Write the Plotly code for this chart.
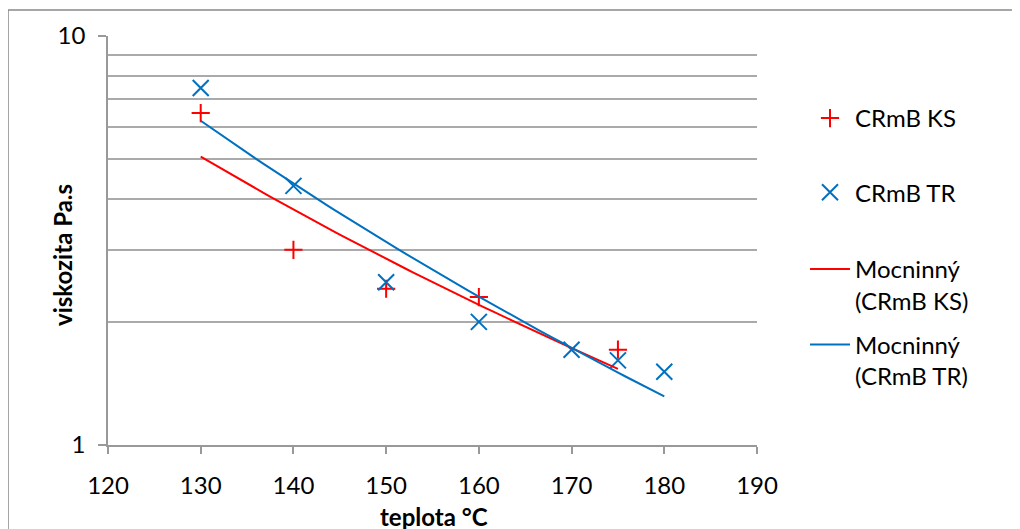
import numpy as np
import plotly.graph_objects as go

# Data
ks_x = [130, 140, 150, 160, 175]
ks_y = [6.48, 3.0, 2.41, 2.30, 1.71]
tr_x = [130, 140, 150, 160, 170, 175, 180]
tr_y = [7.46, 4.30, 2.50, 2.00, 1.71, 1.61, 1.51]

x_ticks = [120, 130, 140, 150, 160, 170, 180, 190]
y_ticks = [1, 10]
y_minor = [2, 3, 4, 5, 6, 7, 8, 9]

names = ["CRmB KS", "CRmB TR", "Mocninný<br>(CRmB KS)", "Mocninný<br>(CRmB TR)"]

RED = "#FF0000"
BLUE = "#0070C0"
FONT = "Lato"


def power_fit(xs, ys):
    b, a = np.polyfit(np.log(xs), np.log(ys), 1)
    xf = np.linspace(min(xs), max(xs), 60)
    return xf, np.exp(a) * xf ** b


fig = go.Figure()
fig.add_trace(go.Scatter(x=ks_x, y=ks_y, mode="markers", name=names[0],
                         legend="legend", legendgroup="a",
                         marker=dict(symbol="cross-thin", size=13,
                                     line=dict(color=RED, width=2))))
fig.add_trace(go.Scatter(x=tr_x, y=tr_y, mode="markers", name=names[1],
                         legend="legend", legendgroup="b",
                         marker=dict(symbol="x-thin", size=16,
                                     line=dict(color=BLUE, width=2))))
fx, fy = power_fit(ks_x, ks_y)
fig.add_trace(go.Scatter(x=fx, y=fy, mode="lines", name=names[2],
                         legend="legend2", legendgroup="c",
                         line=dict(color=RED, width=2)))
fx, fy = power_fit(tr_x, tr_y)
fig.add_trace(go.Scatter(x=fx, y=fy, mode="lines", name=names[3],
                         legend="legend2", legendgroup="d",
                         line=dict(color=BLUE, width=2)))

# page body has an 8px margin, so positions are shifted by 8
OFF = 8
W, H = 1020, 529
L, R, T, B = 108 - OFF, 757 - OFF, 36 - OFF, 445 - OFF
pw, ph = R - L, B - T


def px_x(sx):
    return (sx - OFF - L) / pw


def px_y(sy):
    return (B - (sy - OFF)) / ph


legend_common = dict(xanchor="left", yanchor="top", valign="top",
                     font=dict(size=24), bgcolor="rgba(0,0,0,0)", itemwidth=40)

fig.update_layout(
    width=W, height=H,
    margin=dict(l=L, r=W - R, t=T, b=H - B),
    paper_bgcolor="white", plot_bgcolor="white",
    font=dict(family=FONT, size=24, color="black"),
    showlegend=True,
    legend=dict(x=px_x(805), y=px_y(96), tracegroupgap=40, **legend_common),
    legend2=dict(x=px_x(805), y=px_y(247), tracegroupgap=10, **legend_common),
    xaxis=dict(range=[120, 190], tickvals=x_ticks, showgrid=False,
               showline=True, linecolor="#999999", linewidth=1.5,
               ticks="outside", ticklen=7, tickcolor="#999999", tickwidth=1.5,
               zeroline=False, tickfont=dict(size=24), ticklabelstandoff=11),
    yaxis=dict(type="log", range=[0, 1], tickvals=y_ticks,
               ticktext=[str(v) for v in y_ticks],
               showline=True, linecolor="#999999", linewidth=1.5,
               ticks="outside", ticklen=8, tickcolor="#999999", tickwidth=1.5,
               showgrid=True, gridcolor="#AAAAAA", gridwidth=1.5,
               minor=dict(tickvals=y_minor, showgrid=True,
                          gridcolor="#AAAAAA", gridwidth=1.5, ticks=""),
               zeroline=False, tickfont=dict(size=24), ticklabelstandoff=8),
    annotations=[
        dict(text="<b>viskozita Pa.s</b>", textangle=-90,
             xref="paper", yref="paper", x=px_x(62), y=px_y(255),
             xanchor="center", yanchor="middle", showarrow=False,
             font=dict(size=24)),
        dict(text="<b>teplota °C</b>",
             xref="paper", yref="paper", x=px_x(434), y=px_y(516),
             xanchor="center", yanchor="middle", showarrow=False,
             font=dict(size=24)),
    ],
    shapes=[dict(type="rect", xref="paper", yref="paper",
                 x0=px_x(8), x1=px_x(1040),
                 y0=px_y(560), y1=px_y(10),
                 line=dict(color="#898989", width=1.5), layer="below")],
)

fig.write_html("out.html")
